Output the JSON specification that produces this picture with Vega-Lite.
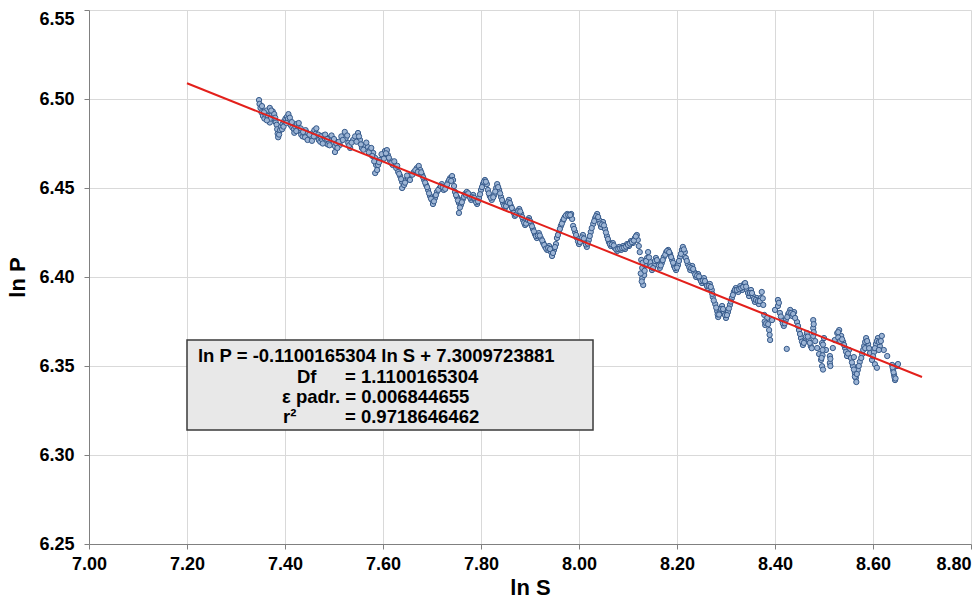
{
  "$schema": "https://vega.github.io/schema/vega-lite/v6.json",
  "width": 882,
  "height": 534,
  "autosize": "none",
  "padding": {"left": 89, "top": 10, "right": 2, "bottom": 59},
  "background": "#ffffff",
  "config": {
    "view": {"stroke": null},
    "font": "Liberation Sans",
    "axis": {
      "labelFont": "Liberation Sans", "labelFontSize": 18, "labelFontWeight": "bold", "labelColor": "#000000",
      "titleFont": "Liberation Sans", "titleFontSize": 22, "titleFontWeight": "bold", "titleColor": "#000000",
      "domainColor": "#808080", "tickColor": "#808080", "tickSize": 5,
      "gridColor": "#d9d9d9", "gridWidth": 1
    }
  },
  "datasets": {
    "pts": [
      {"lnS":7.347,"lnP":6.4994},{"lnS":7.348,"lnP":6.4972},{"lnS":7.350,"lnP":6.4950},{"lnS":7.352,"lnP":6.4925},
      {"lnS":7.355,"lnP":6.4905},{"lnS":7.358,"lnP":6.4890},{"lnS":7.360,"lnP":6.4912},{"lnS":7.362,"lnP":6.4935},
      {"lnS":7.365,"lnP":6.4905},{"lnS":7.367,"lnP":6.4880},{"lnS":7.369,"lnP":6.4868},{"lnS":7.371,"lnP":6.4890},
      {"lnS":7.373,"lnP":6.4915},{"lnS":7.375,"lnP":6.4930},{"lnS":7.377,"lnP":6.4905},{"lnS":7.379,"lnP":6.4885},
      {"lnS":7.381,"lnP":6.4870},{"lnS":7.383,"lnP":6.4855},{"lnS":7.384,"lnP":6.4830},{"lnS":7.385,"lnP":6.4805},
      {"lnS":7.386,"lnP":6.4785},{"lnS":7.388,"lnP":6.4800},{"lnS":7.390,"lnP":6.4825},{"lnS":7.392,"lnP":6.4845},
      {"lnS":7.395,"lnP":6.4860},{"lnS":7.398,"lnP":6.4875},{"lnS":7.401,"lnP":6.4890},{"lnS":7.404,"lnP":6.4900},
      {"lnS":7.406,"lnP":6.4888},{"lnS":7.409,"lnP":6.4870},{"lnS":7.412,"lnP":6.4852},{"lnS":7.415,"lnP":6.4840},
      {"lnS":7.418,"lnP":6.4830},{"lnS":7.421,"lnP":6.4845},{"lnS":7.424,"lnP":6.4860},{"lnS":7.427,"lnP":6.4840},
      {"lnS":7.430,"lnP":6.4820},{"lnS":7.433,"lnP":6.4800},{"lnS":7.436,"lnP":6.4790},{"lnS":7.439,"lnP":6.4805},
      {"lnS":7.442,"lnP":6.4825},{"lnS":7.445,"lnP":6.4810},{"lnS":7.448,"lnP":6.4790},{"lnS":7.451,"lnP":6.4775},
      {"lnS":7.454,"lnP":6.4790},{"lnS":7.457,"lnP":6.4810},{"lnS":7.460,"lnP":6.4825},{"lnS":7.463,"lnP":6.4805},
      {"lnS":7.466,"lnP":6.4785},{"lnS":7.469,"lnP":6.4770},{"lnS":7.472,"lnP":6.4760},{"lnS":7.475,"lnP":6.4775},
      {"lnS":7.478,"lnP":6.4795},{"lnS":7.481,"lnP":6.4780},{"lnS":7.484,"lnP":6.4760},{"lnS":7.487,"lnP":6.4745},
      {"lnS":7.490,"lnP":6.4760},{"lnS":7.493,"lnP":6.4785},{"lnS":7.496,"lnP":6.4770},{"lnS":7.499,"lnP":6.4750},
      {"lnS":7.502,"lnP":6.4735},{"lnS":7.505,"lnP":6.4750},{"lnS":7.502,"lnP":6.4702},{"lnS":7.512,"lnP":6.4742},
      {"lnS":7.522,"lnP":6.4815},{"lnS":7.524,"lnP":6.4781},{"lnS":7.529,"lnP":6.4753},{"lnS":7.533,"lnP":6.4725},
      {"lnS":7.539,"lnP":6.4770},{"lnS":7.549,"lnP":6.4809},{"lnS":7.553,"lnP":6.4770},{"lnS":7.557,"lnP":6.4725},
      {"lnS":7.563,"lnP":6.4742},{"lnS":7.569,"lnP":6.4730},{"lnS":7.573,"lnP":6.4713},{"lnS":7.580,"lnP":6.4697},
      {"lnS":7.584,"lnP":6.4669},{"lnS":7.586,"lnP":6.4629},{"lnS":7.584,"lnP":6.4584},{"lnS":7.588,"lnP":6.4601},
      {"lnS":7.590,"lnP":6.4629},{"lnS":7.594,"lnP":6.4657},{"lnS":7.600,"lnP":6.4685},{"lnS":7.604,"lnP":6.4708},
      {"lnS":7.608,"lnP":6.4713},{"lnS":7.610,"lnP":6.4685},{"lnS":7.614,"lnP":6.4657},{"lnS":7.620,"lnP":6.4629},
      {"lnS":7.627,"lnP":6.4612},{"lnS":7.631,"lnP":6.4590},{"lnS":7.635,"lnP":6.4567},{"lnS":7.639,"lnP":6.4534},
      {"lnS":7.639,"lnP":6.4500},{"lnS":7.643,"lnP":6.4517},{"lnS":7.647,"lnP":6.4545},{"lnS":7.651,"lnP":6.4556},
      {"lnS":7.657,"lnP":6.4573},{"lnS":7.663,"lnP":6.4590},{"lnS":7.669,"lnP":6.4612},{"lnS":7.673,"lnP":6.4624},
      {"lnS":7.676,"lnP":6.4601},{"lnS":7.680,"lnP":6.4573},{"lnS":7.684,"lnP":6.4545},{"lnS":7.688,"lnP":6.4517},
      {"lnS":7.692,"lnP":6.4489},{"lnS":7.696,"lnP":6.4455},{"lnS":7.700,"lnP":6.4433},{"lnS":7.702,"lnP":6.4410},
      {"lnS":7.706,"lnP":6.4444},{"lnS":7.710,"lnP":6.4478},{"lnS":7.716,"lnP":6.4500},{"lnS":7.720,"lnP":6.4522},
      {"lnS":7.724,"lnP":6.4489},{"lnS":7.729,"lnP":6.4511},{"lnS":7.733,"lnP":6.4534},{"lnS":7.737,"lnP":6.4556},
      {"lnS":7.741,"lnP":6.4567},{"lnS":7.743,"lnP":6.4545},{"lnS":7.745,"lnP":6.4511},{"lnS":7.747,"lnP":6.4478},
      {"lnS":7.751,"lnP":6.4449},{"lnS":7.755,"lnP":6.4416},{"lnS":7.755,"lnP":6.4360},{"lnS":7.759,"lnP":6.4405},
      {"lnS":7.763,"lnP":6.4438},{"lnS":7.767,"lnP":6.4466},{"lnS":7.771,"lnP":6.4478},{"lnS":7.776,"lnP":6.4455},
      {"lnS":7.780,"lnP":6.4433},{"lnS":7.784,"lnP":6.4461},{"lnS":7.788,"lnP":6.4433},{"lnS":7.792,"lnP":6.4410},
      {"lnS":7.796,"lnP":6.4444},{"lnS":7.800,"lnP":6.4489},{"lnS":7.804,"lnP":6.4522},{"lnS":7.808,"lnP":6.4545},
      {"lnS":7.812,"lnP":6.4522},{"lnS":7.814,"lnP":6.4489},{"lnS":7.818,"lnP":6.4455},{"lnS":7.822,"lnP":6.4433},
      {"lnS":7.827,"lnP":6.4461},{"lnS":7.831,"lnP":6.4500},{"lnS":7.833,"lnP":6.4522},{"lnS":7.837,"lnP":6.4489},
      {"lnS":7.841,"lnP":6.4449},{"lnS":7.845,"lnP":6.4416},{"lnS":7.849,"lnP":6.4388},{"lnS":7.853,"lnP":6.4410},
      {"lnS":7.857,"lnP":6.4433},{"lnS":7.861,"lnP":6.4399},{"lnS":7.865,"lnP":6.4376},{"lnS":7.869,"lnP":6.4343},
      {"lnS":7.873,"lnP":6.4360},{"lnS":7.878,"lnP":6.4382},{"lnS":7.882,"lnP":6.4354},{"lnS":7.886,"lnP":6.4320},
      {"lnS":7.890,"lnP":6.4292},{"lnS":7.894,"lnP":6.4309},{"lnS":7.898,"lnP":6.4331},{"lnS":7.902,"lnP":6.4298},
      {"lnS":7.906,"lnP":6.4270},{"lnS":7.910,"lnP":6.4242},{"lnS":7.914,"lnP":6.4219},{"lnS":7.918,"lnP":6.4247},
      {"lnS":7.922,"lnP":6.4219},{"lnS":7.927,"lnP":6.4191},{"lnS":7.931,"lnP":6.4169},{"lnS":7.935,"lnP":6.4152},
      {"lnS":7.939,"lnP":6.4174},{"lnS":7.943,"lnP":6.4140},{"lnS":7.945,"lnP":6.4118},{"lnS":7.949,"lnP":6.4152},
      {"lnS":7.953,"lnP":6.4185},{"lnS":7.955,"lnP":6.4219},{"lnS":7.959,"lnP":6.4253},{"lnS":7.963,"lnP":6.4287},
      {"lnS":7.967,"lnP":6.4315},{"lnS":7.971,"lnP":6.4337},{"lnS":7.976,"lnP":6.4354},{"lnS":7.980,"lnP":6.4343},
      {"lnS":7.984,"lnP":6.4354},{"lnS":7.986,"lnP":6.4326},{"lnS":7.988,"lnP":6.4287},{"lnS":7.992,"lnP":6.4253},
      {"lnS":7.996,"lnP":6.4219},{"lnS":8.000,"lnP":6.4185},{"lnS":8.004,"lnP":6.4208},{"lnS":8.008,"lnP":6.4236},
      {"lnS":8.012,"lnP":6.4197},{"lnS":8.016,"lnP":6.4169},{"lnS":8.020,"lnP":6.4208},{"lnS":8.024,"lnP":6.4253},
      {"lnS":8.029,"lnP":6.4298},{"lnS":8.033,"lnP":6.4331},{"lnS":8.037,"lnP":6.4354},{"lnS":8.041,"lnP":6.4320},
      {"lnS":8.045,"lnP":6.4281},{"lnS":8.049,"lnP":6.4309},{"lnS":8.053,"lnP":6.4270},{"lnS":8.057,"lnP":6.4230},
      {"lnS":8.061,"lnP":6.4197},{"lnS":8.065,"lnP":6.4174},{"lnS":8.069,"lnP":6.4191},{"lnS":8.073,"lnP":6.4163},
      {"lnS":8.078,"lnP":6.4146},{"lnS":8.082,"lnP":6.4169},{"lnS":8.086,"lnP":6.4152},{"lnS":8.090,"lnP":6.4174},
      {"lnS":8.094,"lnP":6.4157},{"lnS":8.098,"lnP":6.4185},{"lnS":8.102,"lnP":6.4174},{"lnS":8.106,"lnP":6.4202},
      {"lnS":8.110,"lnP":6.4191},{"lnS":8.114,"lnP":6.4219},{"lnS":8.118,"lnP":6.4236},{"lnS":8.120,"lnP":6.4208},
      {"lnS":8.122,"lnP":6.4174},{"lnS":8.124,"lnP":6.4140},{"lnS":8.127,"lnP":6.4096},{"lnS":8.129,"lnP":6.4051},
      {"lnS":8.129,"lnP":6.3994},{"lnS":8.131,"lnP":6.3955},{"lnS":8.133,"lnP":6.4011},{"lnS":8.135,"lnP":6.4067},
      {"lnS":8.139,"lnP":6.4107},{"lnS":8.141,"lnP":6.4140},{"lnS":8.145,"lnP":6.4084},{"lnS":8.149,"lnP":6.4039},
      {"lnS":8.153,"lnP":6.4067},{"lnS":8.157,"lnP":6.4107},{"lnS":8.161,"lnP":6.4084},{"lnS":8.165,"lnP":6.4051},
      {"lnS":8.169,"lnP":6.4079},{"lnS":8.173,"lnP":6.4112},{"lnS":8.178,"lnP":6.4140},{"lnS":8.182,"lnP":6.4152},
      {"lnS":8.186,"lnP":6.4129},{"lnS":8.190,"lnP":6.4096},{"lnS":8.194,"lnP":6.4062},{"lnS":8.198,"lnP":6.4039},
      {"lnS":8.202,"lnP":6.4067},{"lnS":8.206,"lnP":6.4112},{"lnS":8.210,"lnP":6.4152},{"lnS":8.212,"lnP":6.4169},
      {"lnS":8.216,"lnP":6.4140},{"lnS":8.218,"lnP":6.4107},{"lnS":8.222,"lnP":6.4073},{"lnS":8.227,"lnP":6.4039},
      {"lnS":8.231,"lnP":6.4062},{"lnS":8.235,"lnP":6.4028},{"lnS":8.239,"lnP":6.4000},{"lnS":8.243,"lnP":6.4017},
      {"lnS":8.247,"lnP":6.3989},{"lnS":8.251,"lnP":6.3966},{"lnS":8.255,"lnP":6.3994},{"lnS":8.259,"lnP":6.3961},
      {"lnS":8.263,"lnP":6.3938},{"lnS":8.267,"lnP":6.3961},{"lnS":8.271,"lnP":6.3927},{"lnS":8.273,"lnP":6.3888},
      {"lnS":8.278,"lnP":6.3848},{"lnS":8.282,"lnP":6.3809},{"lnS":8.284,"lnP":6.3775},{"lnS":8.288,"lnP":6.3803},
      {"lnS":8.292,"lnP":6.3837},{"lnS":8.296,"lnP":6.3803},{"lnS":8.300,"lnP":6.3770},{"lnS":8.304,"lnP":6.3803},
      {"lnS":8.308,"lnP":6.3843},{"lnS":8.312,"lnP":6.3882},{"lnS":8.316,"lnP":6.3916},{"lnS":8.320,"lnP":6.3938},
      {"lnS":8.325,"lnP":6.3916},{"lnS":8.329,"lnP":6.3949},{"lnS":8.333,"lnP":6.3927},{"lnS":8.337,"lnP":6.3961},
      {"lnS":8.339,"lnP":6.3966},{"lnS":8.343,"lnP":6.3927},{"lnS":8.347,"lnP":6.3893},{"lnS":8.351,"lnP":6.3927},
      {"lnS":8.355,"lnP":6.3893},{"lnS":8.359,"lnP":6.3860},{"lnS":8.363,"lnP":6.3882},{"lnS":8.367,"lnP":6.3848},
      {"lnS":8.371,"lnP":6.3882},{"lnS":8.373,"lnP":6.3916},{"lnS":8.376,"lnP":6.3843},{"lnS":8.378,"lnP":6.3787},
      {"lnS":8.380,"lnP":6.3730},{"lnS":8.384,"lnP":6.3770},{"lnS":8.388,"lnP":6.3702},{"lnS":8.390,"lnP":6.3646},
      {"lnS":8.394,"lnP":6.3758},{"lnS":8.400,"lnP":6.3815},{"lnS":8.406,"lnP":6.3871},{"lnS":8.406,"lnP":6.3837},
      {"lnS":8.410,"lnP":6.3798},{"lnS":8.414,"lnP":6.3758},{"lnS":8.418,"lnP":6.3725},{"lnS":8.422,"lnP":6.3758},
      {"lnS":8.427,"lnP":6.3792},{"lnS":8.431,"lnP":6.3815},{"lnS":8.435,"lnP":6.3781},{"lnS":8.439,"lnP":6.3803},
      {"lnS":8.424,"lnP":6.3596},{"lnS":8.445,"lnP":6.3747},{"lnS":8.449,"lnP":6.3702},{"lnS":8.453,"lnP":6.3657},
      {"lnS":8.457,"lnP":6.3618},{"lnS":8.461,"lnP":6.3646},{"lnS":8.465,"lnP":6.3685},{"lnS":8.469,"lnP":6.3646},
      {"lnS":8.473,"lnP":6.3612},{"lnS":8.478,"lnP":6.3758},{"lnS":8.478,"lnP":6.3713},{"lnS":8.478,"lnP":6.3669},
      {"lnS":8.482,"lnP":6.3640},{"lnS":8.486,"lnP":6.3601},{"lnS":8.490,"lnP":6.3567},{"lnS":8.494,"lnP":6.3534},
      {"lnS":8.496,"lnP":6.3499},{"lnS":8.496,"lnP":6.3629},{"lnS":8.500,"lnP":6.3657},{"lnS":8.504,"lnP":6.3590},
      {"lnS":8.512,"lnP":6.3556},{"lnS":8.512,"lnP":6.3517},{"lnS":8.518,"lnP":6.3601},{"lnS":8.522,"lnP":6.3646},
      {"lnS":8.527,"lnP":6.3685},{"lnS":8.531,"lnP":6.3702},{"lnS":8.535,"lnP":6.3669},{"lnS":8.539,"lnP":6.3635},
      {"lnS":8.543,"lnP":6.3601},{"lnS":8.547,"lnP":6.3556},{"lnS":8.551,"lnP":6.3590},{"lnS":8.555,"lnP":6.3545},
      {"lnS":8.559,"lnP":6.3500},{"lnS":8.563,"lnP":6.3461},{"lnS":8.565,"lnP":6.3433},{"lnS":8.569,"lnP":6.3478},
      {"lnS":8.573,"lnP":6.3523},{"lnS":8.578,"lnP":6.3567},{"lnS":8.582,"lnP":6.3612},{"lnS":8.586,"lnP":6.3657},
      {"lnS":8.590,"lnP":6.3623},{"lnS":8.594,"lnP":6.3573},{"lnS":8.598,"lnP":6.3534},{"lnS":8.602,"lnP":6.3578},
      {"lnS":8.606,"lnP":6.3623},{"lnS":8.610,"lnP":6.3657},{"lnS":8.614,"lnP":6.3612},{"lnS":8.618,"lnP":6.3669},
      {"lnS":8.622,"lnP":6.3590},{"lnS":8.629,"lnP":6.3556},{"lnS":8.639,"lnP":6.3506},{"lnS":8.641,"lnP":6.3478},
      {"lnS":8.643,"lnP":6.3450},{"lnS":8.645,"lnP":6.3421},{"lnS":8.649,"lnP":6.3500},{"lnS":8.651,"lnP":6.3511},
      {"lnS":7.353,"lnP":6.4960},{"lnS":7.357,"lnP":6.4925},{"lnS":7.363,"lnP":6.4880},{"lnS":7.369,"lnP":6.4950},
      {"lnS":7.372,"lnP":6.4935},{"lnS":7.378,"lnP":6.4915},{"lnS":7.380,"lnP":6.4895},{"lnS":7.394,"lnP":6.4830},
      {"lnS":7.397,"lnP":6.4845},{"lnS":7.403,"lnP":6.4865},{"lnS":7.407,"lnP":6.4915},{"lnS":7.410,"lnP":6.4895},
      {"lnS":7.414,"lnP":6.4870},{"lnS":7.419,"lnP":6.4810},{"lnS":7.423,"lnP":6.4820},{"lnS":7.428,"lnP":6.4865},
      {"lnS":7.432,"lnP":6.4835},{"lnS":7.437,"lnP":6.4815},{"lnS":7.441,"lnP":6.4785},{"lnS":7.446,"lnP":6.4770},
      {"lnS":7.450,"lnP":6.4800},{"lnS":7.455,"lnP":6.4765},{"lnS":7.459,"lnP":6.4790},{"lnS":7.464,"lnP":6.4835},
      {"lnS":7.468,"lnP":6.4800},{"lnS":7.473,"lnP":6.4790},{"lnS":7.477,"lnP":6.4750},{"lnS":7.482,"lnP":6.4800},
      {"lnS":7.486,"lnP":6.4775},{"lnS":7.491,"lnP":6.4740},{"lnS":7.495,"lnP":6.4795},{"lnS":7.500,"lnP":6.4775},
      {"lnS":7.507,"lnP":6.4725},{"lnS":7.510,"lnP":6.4760},{"lnS":7.515,"lnP":6.4790},{"lnS":7.518,"lnP":6.4770},
      {"lnS":7.527,"lnP":6.4795},{"lnS":7.531,"lnP":6.4740},{"lnS":7.536,"lnP":6.4755},{"lnS":7.543,"lnP":6.4790},
      {"lnS":7.546,"lnP":6.4760},{"lnS":7.551,"lnP":6.4790},{"lnS":7.555,"lnP":6.4745},{"lnS":7.560,"lnP":6.4715},
      {"lnS":7.566,"lnP":6.4755},{"lnS":7.571,"lnP":6.4700},{"lnS":7.576,"lnP":6.4725},{"lnS":7.578,"lnP":6.4680},
      {"lnS":7.582,"lnP":6.4650},{"lnS":7.592,"lnP":6.4645},{"lnS":7.597,"lnP":6.4690},{"lnS":7.602,"lnP":6.4665},
      {"lnS":7.606,"lnP":6.4695},{"lnS":7.612,"lnP":6.4670},{"lnS":7.617,"lnP":6.4640},{"lnS":7.623,"lnP":6.4650},
      {"lnS":7.629,"lnP":6.4625},{"lnS":7.633,"lnP":6.4580},{"lnS":7.637,"lnP":6.4550},{"lnS":7.645,"lnP":6.4530},
      {"lnS":7.649,"lnP":6.4570},{"lnS":7.655,"lnP":6.4545},{"lnS":7.660,"lnP":6.4575},{"lnS":7.666,"lnP":6.4600},
      {"lnS":7.671,"lnP":6.4590},{"lnS":7.678,"lnP":6.4588},{"lnS":7.682,"lnP":6.4560},{"lnS":7.686,"lnP":6.4530},
      {"lnS":7.690,"lnP":6.4505},{"lnS":7.694,"lnP":6.4470},{"lnS":7.698,"lnP":6.4440},{"lnS":7.704,"lnP":6.4425},
      {"lnS":7.708,"lnP":6.4460},{"lnS":7.713,"lnP":6.4490},{"lnS":7.718,"lnP":6.4510},{"lnS":7.722,"lnP":6.4505},
      {"lnS":7.727,"lnP":6.4495},{"lnS":7.731,"lnP":6.4520},{"lnS":7.735,"lnP":6.4545},{"lnS":7.739,"lnP":6.4540},
      {"lnS":7.749,"lnP":6.4460},{"lnS":7.753,"lnP":6.4430},{"lnS":7.757,"lnP":6.4390},{"lnS":7.761,"lnP":6.4420},
      {"lnS":7.765,"lnP":6.4450},{"lnS":7.769,"lnP":6.4462},{"lnS":7.774,"lnP":6.4470},{"lnS":7.778,"lnP":6.4445},
      {"lnS":7.782,"lnP":6.4448},{"lnS":7.786,"lnP":6.4445},{"lnS":7.790,"lnP":6.4420},{"lnS":7.794,"lnP":6.4425},
      {"lnS":7.798,"lnP":6.4465},{"lnS":7.802,"lnP":6.4505},{"lnS":7.806,"lnP":6.4535},{"lnS":7.810,"lnP":6.4535},
      {"lnS":7.816,"lnP":6.4470},{"lnS":7.820,"lnP":6.4445},{"lnS":7.825,"lnP":6.4448},{"lnS":7.829,"lnP":6.4480},
      {"lnS":7.835,"lnP":6.4505},{"lnS":7.839,"lnP":6.4470},{"lnS":7.843,"lnP":6.4432},{"lnS":7.847,"lnP":6.4400},
      {"lnS":7.851,"lnP":6.4398},{"lnS":7.855,"lnP":6.4420},{"lnS":7.859,"lnP":6.4415},{"lnS":7.863,"lnP":6.4388},
      {"lnS":7.867,"lnP":6.4360},{"lnS":7.871,"lnP":6.4350},{"lnS":7.876,"lnP":6.4370},{"lnS":7.880,"lnP":6.4368},
      {"lnS":7.884,"lnP":6.4337},{"lnS":7.888,"lnP":6.4305},{"lnS":7.892,"lnP":6.4300},{"lnS":7.896,"lnP":6.4320},
      {"lnS":7.900,"lnP":6.4315},{"lnS":7.904,"lnP":6.4285},{"lnS":7.908,"lnP":6.4256},{"lnS":7.912,"lnP":6.4230},
      {"lnS":7.916,"lnP":6.4233},{"lnS":7.920,"lnP":6.4233},{"lnS":7.925,"lnP":6.4205},{"lnS":7.929,"lnP":6.4180},
      {"lnS":7.933,"lnP":6.4160},{"lnS":7.937,"lnP":6.4163},{"lnS":7.941,"lnP":6.4157},{"lnS":7.947,"lnP":6.4135},
      {"lnS":7.951,"lnP":6.4168},{"lnS":7.957,"lnP":6.4236},{"lnS":7.961,"lnP":6.4270},{"lnS":7.965,"lnP":6.4300},
      {"lnS":7.969,"lnP":6.4326},{"lnS":7.973,"lnP":6.4345},{"lnS":7.978,"lnP":6.4348},{"lnS":7.982,"lnP":6.4348},
      {"lnS":7.990,"lnP":6.4270},{"lnS":7.994,"lnP":6.4236},{"lnS":7.998,"lnP":6.4200},{"lnS":8.002,"lnP":6.4197},
      {"lnS":8.006,"lnP":6.4222},{"lnS":8.010,"lnP":6.4216},{"lnS":8.014,"lnP":6.4183},{"lnS":8.018,"lnP":6.4188},
      {"lnS":8.022,"lnP":6.4230},{"lnS":8.026,"lnP":6.4275},{"lnS":8.031,"lnP":6.4314},{"lnS":8.035,"lnP":6.4342},
      {"lnS":8.039,"lnP":6.4337},{"lnS":8.043,"lnP":6.4300},{"lnS":8.047,"lnP":6.4295},{"lnS":8.051,"lnP":6.4290},
      {"lnS":8.055,"lnP":6.4250},{"lnS":8.059,"lnP":6.4213},{"lnS":8.063,"lnP":6.4185},{"lnS":8.067,"lnP":6.4182},
      {"lnS":8.071,"lnP":6.4177},{"lnS":8.076,"lnP":6.4155},{"lnS":8.080,"lnP":6.4157},{"lnS":8.084,"lnP":6.4160},
      {"lnS":8.088,"lnP":6.4163},{"lnS":8.092,"lnP":6.4165},{"lnS":8.096,"lnP":6.4171},{"lnS":8.100,"lnP":6.4180},
      {"lnS":8.104,"lnP":6.4188},{"lnS":8.108,"lnP":6.4196},{"lnS":8.112,"lnP":6.4205},{"lnS":8.116,"lnP":6.4228},
      {"lnS":8.126,"lnP":6.4020},{"lnS":8.128,"lnP":6.3975},{"lnS":8.130,"lnP":6.4080},{"lnS":8.134,"lnP":6.4035},
      {"lnS":8.137,"lnP":6.4090},{"lnS":8.143,"lnP":6.4110},{"lnS":8.147,"lnP":6.4060},{"lnS":8.151,"lnP":6.4050},
      {"lnS":8.155,"lnP":6.4090},{"lnS":8.159,"lnP":6.4095},{"lnS":8.163,"lnP":6.4065},{"lnS":8.167,"lnP":6.4065},
      {"lnS":8.171,"lnP":6.4095},{"lnS":8.176,"lnP":6.4125},{"lnS":8.180,"lnP":6.4146},{"lnS":8.184,"lnP":6.4140},
      {"lnS":8.188,"lnP":6.4112},{"lnS":8.192,"lnP":6.4080},{"lnS":8.196,"lnP":6.4050},{"lnS":8.200,"lnP":6.4053},
      {"lnS":8.204,"lnP":6.4090},{"lnS":8.208,"lnP":6.4130},{"lnS":8.214,"lnP":6.4155},{"lnS":8.220,"lnP":6.4090},
      {"lnS":8.225,"lnP":6.4056},{"lnS":8.229,"lnP":6.4050},{"lnS":8.233,"lnP":6.4045},{"lnS":8.237,"lnP":6.4014},
      {"lnS":8.241,"lnP":6.4008},{"lnS":8.245,"lnP":6.4003},{"lnS":8.249,"lnP":6.3977},{"lnS":8.253,"lnP":6.3980},
      {"lnS":8.257,"lnP":6.3977},{"lnS":8.261,"lnP":6.3950},{"lnS":8.265,"lnP":6.3950},{"lnS":8.269,"lnP":6.3944},
      {"lnS":8.272,"lnP":6.3905},{"lnS":8.275,"lnP":6.3868},{"lnS":8.280,"lnP":6.3828},{"lnS":8.283,"lnP":6.3790},
      {"lnS":8.286,"lnP":6.3789},{"lnS":8.290,"lnP":6.3820},{"lnS":8.294,"lnP":6.3820},{"lnS":8.298,"lnP":6.3786},
      {"lnS":8.302,"lnP":6.3786},{"lnS":8.306,"lnP":6.3823},{"lnS":8.310,"lnP":6.3862},{"lnS":8.314,"lnP":6.3899},
      {"lnS":8.318,"lnP":6.3927},{"lnS":8.322,"lnP":6.3927},{"lnS":8.327,"lnP":6.3932},{"lnS":8.331,"lnP":6.3938},
      {"lnS":8.335,"lnP":6.3944},{"lnS":8.341,"lnP":6.3946},{"lnS":8.345,"lnP":6.3910},{"lnS":8.349,"lnP":6.3910},
      {"lnS":8.353,"lnP":6.3910},{"lnS":8.357,"lnP":6.3876},{"lnS":8.361,"lnP":6.3871},{"lnS":8.365,"lnP":6.3865},
      {"lnS":8.369,"lnP":6.3865},{"lnS":8.375,"lnP":6.3880},{"lnS":8.379,"lnP":6.3750},{"lnS":8.382,"lnP":6.3740},
      {"lnS":8.386,"lnP":6.3735},{"lnS":8.389,"lnP":6.3675},{"lnS":8.408,"lnP":6.3855},{"lnS":8.412,"lnP":6.3778},
      {"lnS":8.416,"lnP":6.3740},{"lnS":8.420,"lnP":6.3740},{"lnS":8.425,"lnP":6.3775},{"lnS":8.429,"lnP":6.3800},
      {"lnS":8.433,"lnP":6.3798},{"lnS":8.437,"lnP":6.3792},{"lnS":8.441,"lnP":6.3770},{"lnS":8.447,"lnP":6.3725},
      {"lnS":8.451,"lnP":6.3680},{"lnS":8.455,"lnP":6.3637},{"lnS":8.459,"lnP":6.3630},{"lnS":8.463,"lnP":6.3665},
      {"lnS":8.467,"lnP":6.3665},{"lnS":8.471,"lnP":6.3630},{"lnS":8.475,"lnP":6.3600},{"lnS":8.479,"lnP":6.3735},
      {"lnS":8.479,"lnP":6.3690},{"lnS":8.497,"lnP":6.3560},{"lnS":8.497,"lnP":6.3590},{"lnS":8.495,"lnP":6.3545},
      {"lnS":8.498,"lnP":6.3620},{"lnS":8.498,"lnP":6.3480},{"lnS":8.513,"lnP":6.3540},{"lnS":8.513,"lnP":6.3500},
      {"lnS":8.529,"lnP":6.3690},{"lnS":8.529,"lnP":6.3660},{"lnS":8.533,"lnP":6.3640},{"lnS":8.537,"lnP":6.3650},
      {"lnS":8.541,"lnP":6.3618},{"lnS":8.545,"lnP":6.3580},{"lnS":8.549,"lnP":6.3570},{"lnS":8.557,"lnP":6.3520},
      {"lnS":8.561,"lnP":6.3480},{"lnS":8.563,"lnP":6.3440},{"lnS":8.567,"lnP":6.3455},{"lnS":8.571,"lnP":6.3500},
      {"lnS":8.561,"lnP":6.3550},{"lnS":8.566,"lnP":6.3410},{"lnS":8.576,"lnP":6.3545},{"lnS":8.580,"lnP":6.3590},
      {"lnS":8.584,"lnP":6.3635},{"lnS":8.588,"lnP":6.3640},{"lnS":8.584,"lnP":6.3600},{"lnS":8.592,"lnP":6.3600},
      {"lnS":8.600,"lnP":6.3555},{"lnS":8.604,"lnP":6.3600},{"lnS":8.608,"lnP":6.3640},{"lnS":8.612,"lnP":6.3635},
      {"lnS":8.612,"lnP":6.3590},{"lnS":8.616,"lnP":6.3640},{"lnS":8.604,"lnP":6.3510},{"lnS":8.608,"lnP":6.3490},
      {"lnS":8.640,"lnP":6.3492},{"lnS":8.642,"lnP":6.3464},{"lnS":8.644,"lnP":6.3436},{"lnS":8.646,"lnP":6.3430}
    ],
    "fit": [
      {"lnS": 7.2, "lnP": 6.5088533692},
      {"lnS": 8.7, "lnP": 6.3438285736}
    ]
  },
  "layer": [
    {
      "data": {"name": "pts"},
      "mark": {"type": "circle", "size": 28, "fill": "#9db5d5", "stroke": "#35598a", "strokeWidth": 1, "opacity": 1},
      "encoding": {
        "x": {
          "field": "lnS", "type": "quantitative",
          "scale": {"domain": [7.0, 8.8], "nice": false, "zero": false},
          "axis": {
            "title": "ln S", "values": [7.0, 7.2, 7.4, 7.6, 7.8, 8.0, 8.2, 8.4, 8.6, 8.8],
            "format": ".2f", "labelPadding": 6, "titlePadding": 4,
            "labelAlign": {"condition": {"test": "datum.value > 8.79", "value": "right"}, "value": "center"}
          }
        },
        "y": {
          "field": "lnP", "type": "quantitative",
          "scale": {"domain": [6.25, 6.55], "nice": false, "zero": false},
          "axis": {
            "title": "ln P", "values": [6.25, 6.3, 6.35, 6.4, 6.45, 6.5, 6.55],
            "format": ".2f", "labelPadding": 10, "titlePadding": 9,
            "labelBaseline": {"condition": {"test": "datum.value > 6.549", "value": "top"}, "value": "middle"}
          }
        }
      }
    },
    {
      "data": {"name": "fit"},
      "mark": {"type": "line", "color": "#e3201b", "strokeWidth": 2},
      "encoding": {
        "x": {"field": "lnS", "type": "quantitative"},
        "y": {"field": "lnP", "type": "quantitative"}
      }
    },
    {
      "data": {"values": [{}]},
      "mark": {"type": "rect", "fill": "#e8e8e8", "stroke": "#3a3a3a", "strokeWidth": 1.5},
      "encoding": {
        "x": {"datum": 7.2, "type": "quantitative"},
        "x2": {"datum": 8.0286},
        "y": {"datum": 6.3646, "type": "quantitative"},
        "y2": {"datum": 6.3140}
      }
    },
    {
      "data": {"values": [{}]},
      "mark": {"type": "text", "text": "ln P = -0.1100165304  ln S + 7.3009723881", "align": "left", "baseline": "middle", "font": "Liberation Sans", "fontSize": 18.5, "fontWeight": "bold", "color": "#000000"},
      "encoding": {"x": {"datum": 7.2224, "type": "quantitative"}, "y": {"datum": 6.3556, "type": "quantitative"}}
    },
    {
      "data": {"values": [{}]},
      "mark": {"type": "text", "text": "Df", "align": "left", "baseline": "middle", "font": "Liberation Sans", "fontSize": 18.5, "fontWeight": "bold", "color": "#000000"},
      "encoding": {"x": {"datum": 7.4245, "type": "quantitative"}, "y": {"datum": 6.3438, "type": "quantitative"}}
    },
    {
      "data": {"values": [{}]},
      "mark": {"type": "text", "text": "= 1.1100165304", "align": "left", "baseline": "middle", "font": "Liberation Sans", "fontSize": 18.5, "fontWeight": "bold", "color": "#000000"},
      "encoding": {"x": {"datum": 7.5224, "type": "quantitative"}, "y": {"datum": 6.3438, "type": "quantitative"}}
    },
    {
      "data": {"values": [{}]},
      "mark": {"type": "text", "text": "ε padr. = 0.006844655", "align": "left", "baseline": "middle", "font": "Liberation Sans", "fontSize": 18.5, "fontWeight": "bold", "color": "#000000"},
      "encoding": {"x": {"datum": 7.3939, "type": "quantitative"}, "y": {"datum": 6.3326, "type": "quantitative"}}
    },
    {
      "data": {"values": [{}]},
      "mark": {"type": "text", "text": "r²", "align": "left", "baseline": "middle", "font": "Liberation Sans", "fontSize": 18.5, "fontWeight": "bold", "color": "#000000"},
      "encoding": {"x": {"datum": 7.396, "type": "quantitative"}, "y": {"datum": 6.3214, "type": "quantitative"}}
    },
    {
      "data": {"values": [{}]},
      "mark": {"type": "text", "text": "= 0.9718646462", "align": "left", "baseline": "middle", "font": "Liberation Sans", "fontSize": 18.5, "fontWeight": "bold", "color": "#000000"},
      "encoding": {"x": {"datum": 7.5224, "type": "quantitative"}, "y": {"datum": 6.3214, "type": "quantitative"}}
    }
  ]
}
